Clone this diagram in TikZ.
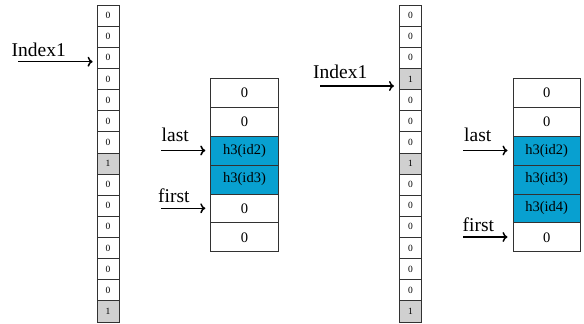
\documentclass[tikz,border=0pt]{standalone}
\usepackage{fontspec}
\setmainfont{Liberation Serif}
\usetikzlibrary{arrows.meta,calc}
\definecolor{cellblue}{RGB}{8,160,208}
\definecolor{cellgray}{RGB}{208,208,208}
\definecolor{edgegray}{RGB}{50,50,50}
\tikzset{
  colcell/.style={draw=edgegray,line width=0.8pt,minimum width=22pt,minimum height=21.13pt,inner sep=0pt,font=\fontsize{9.5}{10}\selectfont,fill=white},
  stcell/.style={draw=edgegray,line width=0.8pt,minimum width=67.6pt,minimum height=28.9pt,inner sep=0pt,font=\fontsize{14.5}{15}\selectfont,fill=white},
  lbl/.style={anchor=base west,inner sep=0pt,font=\fontsize{19.5}{21}\selectfont},
  arr/.style={line width=1.5pt,-{To[length=5pt,width=10pt]}},
}
\begin{document}
\begin{tikzpicture}[x=1pt,y=-1pt]
\useasboundingbox (0,0) rectangle (584,324);
% left column
\foreach \i in {1,...,15}{
  \pgfmathsetmacro{\yy}{5+21.13*(\i-0.5)}
  \def\val{0}\def\fc{white}
  \ifnum\i=8 \def\val{1}\def\fc{cellgray}\fi
  \ifnum\i=15 \def\val{1}\def\fc{cellgray}\fi
  \node[colcell,fill=\fc] (L\i) at (108,\yy) {\val};
}
% right column
\foreach \i in {1,...,15}{
  \pgfmathsetmacro{\yy}{5+21.13*(\i-0.5)}
  \def\val{0}\def\fc{white}
  \ifnum\i=4 \def\val{1}\def\fc{cellgray}\fi
  \ifnum\i=8 \def\val{1}\def\fc{cellgray}\fi
  \ifnum\i=15 \def\val{1}\def\fc{cellgray}\fi
  \node[colcell,fill=\fc] (R\i) at (410.4,\yy) {\val};
}
% left stack
\node[stcell] (S1) at (244.5,92.75) {0};
\node[stcell] (S2) at (244.5,121.65) {0};
\node[stcell,fill=cellblue] (S3) at (244.5,150.55) {h3(id2)};
\node[stcell,fill=cellblue] (S4) at (244.5,179.45) {h3(id3)};
\node[stcell] (S5) at (244.5,208.35) {0};
\node[stcell] (S6) at (244.5,237.25) {0};
% right stack
\node[stcell] (T1) at (546.7,92.75) {0};
\node[stcell] (T2) at (546.7,121.65) {0};
\node[stcell,fill=cellblue] (T3) at (546.7,150.55) {h3(id2)};
\node[stcell,fill=cellblue] (T4) at (546.7,179.45) {h3(id3)};
\node[stcell,fill=cellblue] (T5) at (546.7,208.35) {h3(id4)};
\node[stcell] (T6) at (546.7,237.25) {0};
% labels
\node[lbl] (idxL) at (11.5,56) {Index1};
\node[lbl] (lastL) at (161.5,141.7) {last};
\node[lbl] (firstL) at (158,202.7) {first};
\node[lbl] (idxR) at (313,78) {Index1};
\node[lbl] (lastR) at (464,141.7) {last};
\node[lbl] (firstR) at (462.5,231.7) {first};
% arrows
\coordinate (aL) at (18,61.7);
\coordinate (aR) at (320,86);
\coordinate (bL) at (161,150.5);
\coordinate (cL) at (161,208.3);
\coordinate (bR) at (463,150.5);
\coordinate (cR) at (463,237);
\draw[arr,shorten >=4pt] (aL) -- (aL -| L3.west);
\draw[arr,shorten >=5pt] (aR) -- (aR -| R4.west);
\draw[arr,shorten >=5pt] (bL) -- (bL -| S3.west);
\draw[arr,shorten >=5pt] (cL) -- (cL -| S5.west);
\draw[arr,shorten >=5pt] (bR) -- (bR -| T3.west);
\draw[arr,shorten >=5pt] (cR) -- (cR -| T6.west);
\end{tikzpicture}
\end{document}
